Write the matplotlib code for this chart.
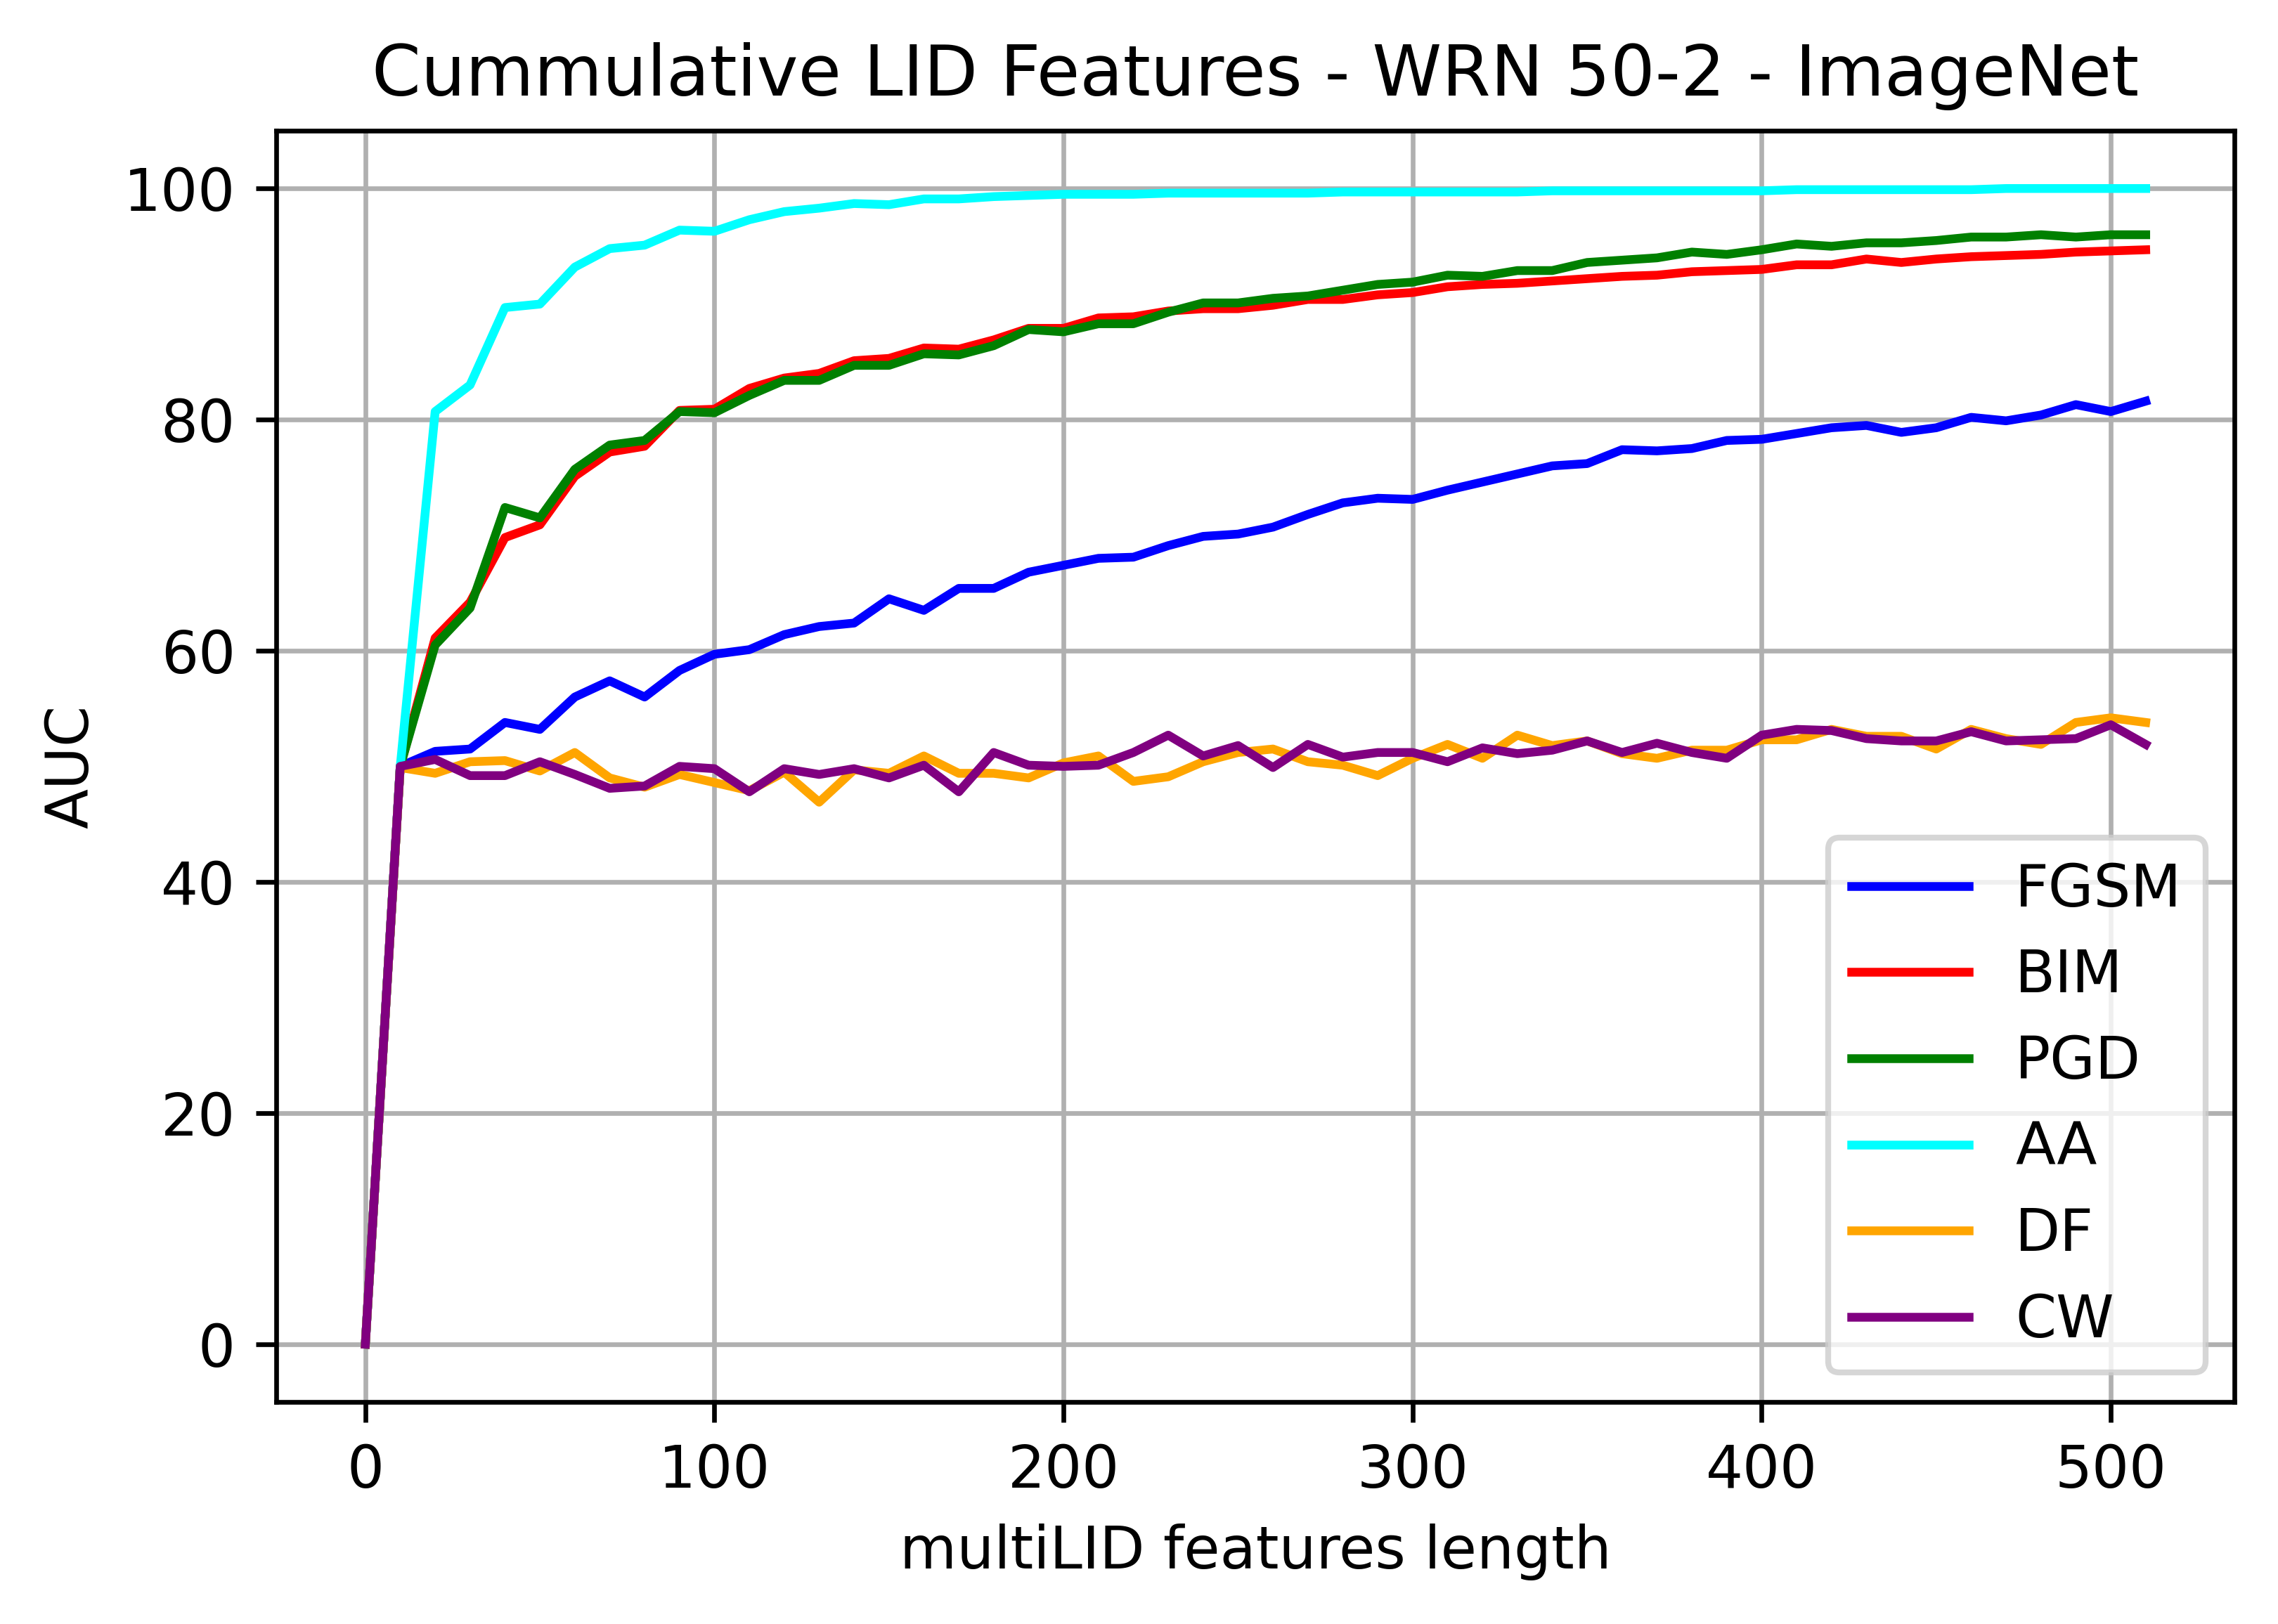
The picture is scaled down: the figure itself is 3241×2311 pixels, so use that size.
import matplotlib
matplotlib.use("Agg")
import matplotlib.pyplot as plt
import numpy as np

# number of cumulative LID features
x = list(range(0, 520, 10))

fgsm = [0, 50.0, 51.3, 51.5, 53.8, 53.2, 56.0, 57.4, 56.0, 58.3, 59.7,
        60.1, 61.4, 62.1, 62.4, 64.5, 63.5, 65.4, 65.4, 66.8, 67.4,
        68.0, 68.1, 69.1, 69.9, 70.1, 70.7, 71.8, 72.8, 73.2, 73.1,
        73.9, 74.6, 75.3, 76.0, 76.2, 77.4, 77.3, 77.5, 78.2, 78.3,
        78.8, 79.3, 79.5, 78.9, 79.3, 80.2, 79.9, 80.4, 81.3, 80.7, 81.6]
bim = [0, 50.0, 61.1, 64.2, 69.8, 70.9, 75.1, 77.2, 77.7, 80.8, 80.9,
       82.7, 83.6, 84.0, 85.1, 85.3, 86.2, 86.1, 86.9, 87.9, 87.9,
       88.8, 88.9, 89.4, 89.6, 89.6, 89.9, 90.4, 90.4, 90.8, 91.0,
       91.5, 91.7, 91.8, 92.0, 92.2, 92.4, 92.5, 92.8, 92.9, 93.0,
       93.4, 93.4, 93.9, 93.6, 93.9, 94.1, 94.2, 94.3, 94.5, 94.6, 94.7]
pgd = [0, 50.0, 60.5, 63.7, 72.4, 71.5, 75.7, 77.8, 78.2, 80.7, 80.6,
       82.1, 83.4, 83.4, 84.7, 84.7, 85.7, 85.6, 86.4, 87.8, 87.6,
       88.3, 88.3, 89.3, 90.1, 90.1, 90.5, 90.7, 91.2, 91.7, 91.9,
       92.5, 92.4, 92.9, 92.9, 93.6, 93.8, 94.0, 94.5, 94.3, 94.7,
       95.2, 95.0, 95.3, 95.3, 95.5, 95.8, 95.8, 96.0, 95.8, 96.0, 96.0]
aa = [0, 50.0, 80.7, 83.0, 89.7, 90.0, 93.2, 94.8, 95.1, 96.4, 96.3,
      97.3, 98.0, 98.3, 98.7, 98.6, 99.1, 99.1, 99.3, 99.4, 99.5,
      99.5, 99.5, 99.6, 99.6, 99.6, 99.6, 99.6, 99.7, 99.7, 99.7,
      99.7, 99.7, 99.7, 99.8, 99.8, 99.8, 99.8, 99.8, 99.8, 99.8,
      99.9, 99.9, 99.9, 99.9, 99.9, 99.9, 100.0, 100.0, 100.0, 100.0, 100.0]
df = [0, 49.9, 49.4, 50.4, 50.5, 49.6, 51.2, 49.0, 48.2, 49.3, 48.6,
      47.9, 49.5, 46.9, 49.7, 49.4, 50.9, 49.4, 49.4, 49.0, 50.3,
      50.9, 48.7, 49.1, 50.4, 51.2, 51.5, 50.4, 50.1, 49.2, 50.7,
      51.9, 50.7, 52.7, 51.8, 52.2, 51.1, 50.7, 51.4, 51.4, 52.3,
      52.3, 53.2, 52.6, 52.6, 51.5, 53.2, 52.4, 51.9, 53.8, 54.2, 53.8]
cw = [0, 50.0, 50.6, 49.2, 49.2, 50.4, 49.3, 48.1, 48.3, 50.0, 49.8,
      47.8, 49.8, 49.3, 49.8, 49.0, 50.1, 47.8, 51.2, 50.1, 50.0,
      50.1, 51.2, 52.7, 50.9, 51.8, 49.9, 51.9, 50.8, 51.2, 51.2,
      50.4, 51.6, 51.1, 51.4, 52.2, 51.2, 52.0, 51.2, 50.7, 52.7,
      53.2, 53.1, 52.4, 52.2, 52.2, 53.0, 52.2, 52.3, 52.4, 53.6, 51.9]

fig = plt.figure(figsize=(3241/600, 2311/600), dpi=600)
ax = fig.add_axes([0.1213, 0.1367, 0.8597, 0.7828])

ax.plot(x, fgsm, color='blue', label='FGSM')
ax.plot(x, bim, color='red', label='BIM')
ax.plot(x, pgd, color='green', label='PGD')
ax.plot(x, aa, color='cyan', label='AA')
ax.plot(x, df, color='orange', label='DF')
ax.plot(x, cw, color='purple', label='CW')

ax.set_title('Cummulative LID Features - WRN 50-2 - ImageNet')
ax.set_xlabel('multiLID features length')
ax.set_ylabel('AUC')
ax.grid(True)
ax.legend(loc='lower right')

fig.savefig('out.png', dpi=600)
